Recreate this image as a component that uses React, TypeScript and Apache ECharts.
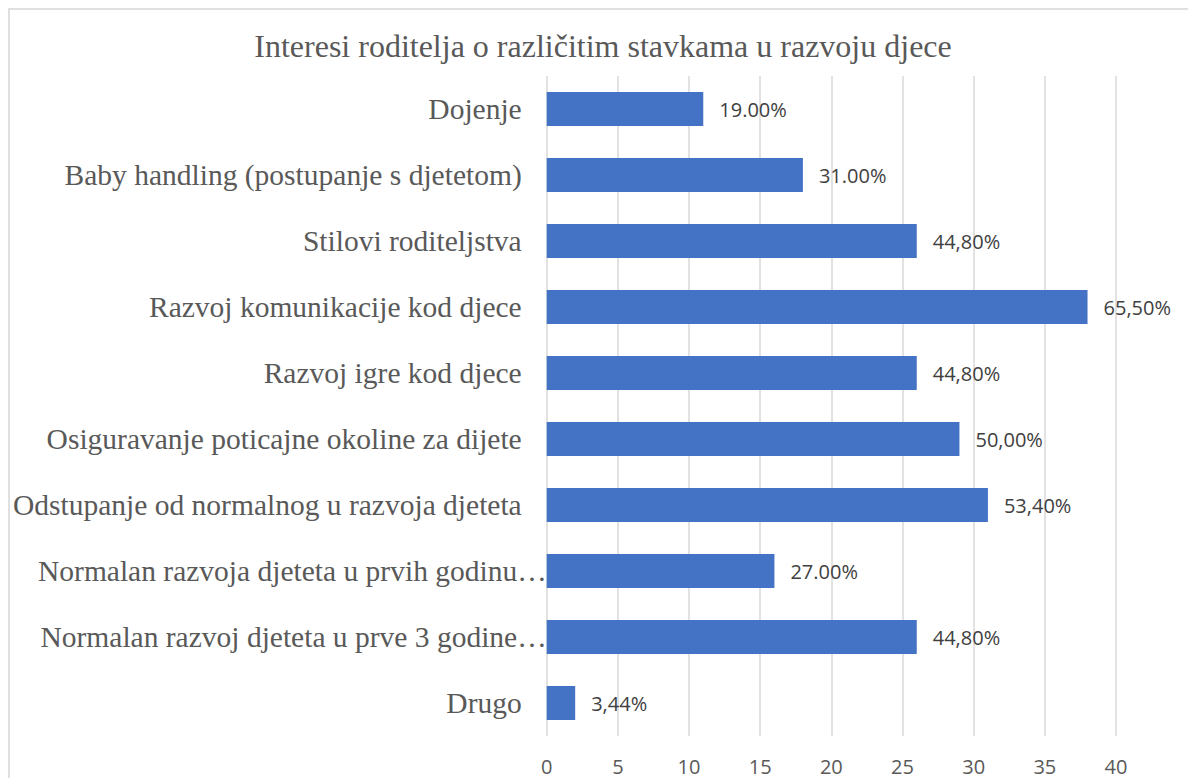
import React, { useEffect, useRef } from "react";
import * as echarts from "echarts";

const titleText = "Interesi roditelja o različitim stavkama u razvoju djece";
const categories = [
  "Dojenje",
  "Baby handling (postupanje s djetetom)",
  "Stilovi roditeljstva",
  "Razvoj komunikacije kod djece",
  "Razvoj igre kod djece",
  "Osiguravanje poticajne okoline za dijete",
  "Odstupanje od normalnog u razvoja djeteta",
  "Normalan razvoja djeteta u prvih godinu…",
  "Normalan razvoj djeteta u prve 3 godine…",
  "Drugo",
];
const values = [11, 18, 26, 38, 26, 29, 31, 16, 26, 2];
const valueLabels = [
  "19.00%",
  "31.00%",
  "44,80%",
  "65,50%",
  "44,80%",
  "50,00%",
  "53,40%",
  "27.00%",
  "44,80%",
  "3,44%",
];
const xTicks = { min: 0, max: 40, interval: 5 };

export default function App() {
  const ref = useRef<HTMLDivElement>(null);
  useEffect(() => {
    document.body.style.overflow = "hidden";
    document.documentElement.style.overflow = "hidden";
    const chart = echarts.init(ref.current!, null, { renderer: "svg" });
    chart.setOption({
      animation: false,
      backgroundColor: "#ffffff",
      title: {
        text: titleText,
        left: "center",
        top: 20,
        padding: [0, 0, 0, 10],
        textStyle: {
          fontFamily: "Liberation Serif",
          fontSize: 32,
          fontWeight: "normal",
          color: "#595959",
        },
      },
      grid: { left: 534, right: 80, top: 66, height: 660, containLabel: false },
      xAxis: {
        type: "value",
        min: xTicks.min,
        max: xTicks.max,
        interval: xTicks.interval,
        axisLine: { show: false },
        axisTick: { show: false },
        splitLine: { show: true, lineStyle: { color: "#d9d9d9", width: 1.5 } },
        axisLabel: {
          fontFamily: "Open Sans",
          fontSize: 20,
          color: "#595959",
          margin: 20,
        },
      },
      yAxis: {
        type: "category",
        data: categories,
        inverse: true,
        axisLine: { show: false },
        axisTick: { show: false },
        axisLabel: {
          margin: 0,
          formatter: (v: string) => (v.endsWith("…") ? `{t|${v}}` : `{n|${v}}`),
          rich: {
            n: {
              fontFamily: "Liberation Serif",
              fontSize: 29.5,
              color: "#595959",
              padding: [0, 25, 0, 0],
            },
            t: {
              fontFamily: "Liberation Serif",
              fontSize: 29.5,
              color: "#595959",
              padding: [0, 0, 0, 0],
            },
          },
        },
      },
      series: [
        {
          type: "bar",
          data: values,
          barWidth: 34,
          itemStyle: { color: "#4472C4" },
          label: {
            show: true,
            position: "right",
            distance: 16,
            fontFamily: "Open Sans",
            fontSize: 20,
            color: "#404040",
            formatter: (p: any) => valueLabels[p.dataIndex],
          },
        },
      ],
    });
    return () => chart.dispose();
  }, []);
  return (
    <div
      style={{
        width: 1188,
        height: 770,
        borderTop: "2px solid #e0e0e0",
        borderLeft: "2px solid #e0e0e0",
        boxSizing: "border-box",
        overflow: "hidden",
      }}
    >
      <div ref={ref} style={{ width: 1186, height: 768 }} />
    </div>
  );
}
